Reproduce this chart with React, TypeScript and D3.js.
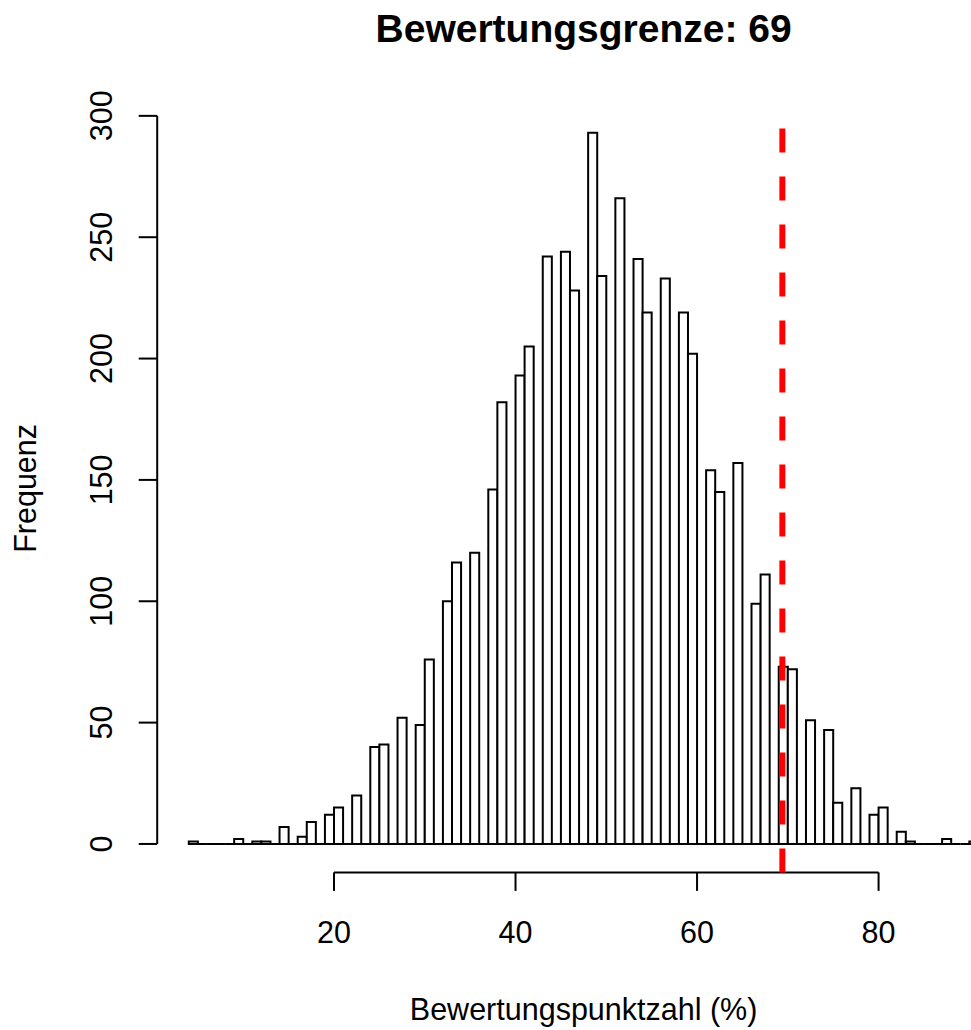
import React from 'react';
import * as d3 from 'd3';

// Histogram bin edges (Bewertungspunktzahl in %), one unit wide
const binEdges = [
  4, 5, 6, 7, 8, 9, 10, 11, 12, 13, 14, 15, 16, 17, 18, 19, 20, 21, 22, 23,
  24, 25, 26, 27, 28, 29, 30, 31, 32, 33, 34, 35, 36, 37, 38, 39, 40, 41, 42, 43,
  44, 45, 46, 47, 48, 49, 50, 51, 52, 53, 54, 55, 56, 57, 58, 59, 60, 61, 62, 63,
  64, 65, 66, 67, 68, 69, 70, 71, 72, 73, 74, 75, 76, 77, 78, 79, 80, 81, 82, 83,
  84, 85, 86, 87, 88, 89, 90, 91,
];

// Counts per bin (bin i spans binEdges[i]..binEdges[i+1])
const binCounts = [
  1, 0, 0, 0, 0, 2, 0, 1, 1, 0, 7, 0, 3, 9, 0, 12, 15, 0, 20, 0,
  40, 41, 0, 52, 0, 49, 76, 0, 100, 116, 0, 120, 0, 146, 182, 0, 193, 205, 0, 242,
  0, 244, 228, 0, 293, 234, 0, 266, 0, 241, 219, 0, 233, 0, 219, 202, 0, 154, 145, 0,
  157, 0, 99, 111, 0, 73, 72, 0, 51, 0, 47, 17, 0, 23, 0, 12, 15, 0, 5, 1,
  0, 0, 0, 2, 0, 0, 1,
];

const xTicks = [20, 40, 60, 80];
const yTicks = [0, 50, 100, 150, 200, 250, 300];
const cutoffValue = 69.4;
const titleText = 'Bewertungsgrenze: 69';
const xLabelText = 'Bewertungspunktzahl (%)';
const yLabelText = 'Frequenz';

const W = 971;
const H = 1030;
const FONT = "'Liberation Sans', Arial, Helvetica, sans-serif";

export default function App() {
  const xLo = binEdges[0];
  const xHi = binEdges[binEdges.length - 1];
  const xExt = (xHi - xLo) * 0.04;
  const yMax = d3.max(binCounts) as number;
  const yExt = yMax * 0.04;

  const plotLeft = 157.2;
  const plotRight = 1010.0;
  const plotTop = 104.4;
  const plotBottom = 872.4;

  const x = d3.scaleLinear().domain([xLo - xExt, xHi + xExt]).range([plotLeft, plotRight]);
  const y = d3.scaleLinear().domain([-yExt, yMax + yExt]).range([plotBottom, plotTop]);

  const sw = 2;
  const tickLen = 18.5;
  const fs = 30.5;

  const bars = binCounts.map((c, i) => {
    const x0 = x(binEdges[i]);
    const x1 = x(binEdges[i + 1]);
    const y0 = y(0);
    const y1 = y(c);
    return `M${x0},${y0}V${y1}H${x1}V${y0}Z`;
  });

  const midX = (x(xLo) + x(xHi)) / 2;
  const midY = (plotTop + plotBottom) / 2;

  return (
    <svg
      width={W}
      height={H}
      viewBox={`0 0 ${W} ${H}`}
      style={{ position: 'absolute', left: 0, top: 0, background: '#ffffff' }}
    >
      <rect x={0} y={0} width={W} height={H} fill="#ffffff" />
      {/* Title */}
      <text
        x={midX}
        y={42}
        textAnchor="middle"
        fontFamily={FONT}
        fontWeight="bold"
        fontSize={39}
        fill="#000"
      >
        {titleText}
      </text>

      {/* Bars */}
      <g fill="#ffffff" stroke="#000" strokeWidth={sw} strokeLinejoin="miter">
        {bars.map((d, i) => (
          <path key={i} d={d} />
        ))}
      </g>

      {/* X axis */}
      <g stroke="#000" strokeWidth={sw} fill="none">
        <line x1={x(xTicks[0])} x2={x(xTicks[xTicks.length - 1])} y1={plotBottom} y2={plotBottom} />
        {xTicks.map((t) => (
          <line key={t} x1={x(t)} x2={x(t)} y1={plotBottom} y2={plotBottom + tickLen} />
        ))}
      </g>
      {xTicks.map((t) => (
        <text key={t} x={x(t)} y={943} textAnchor="middle" fontFamily={FONT} fontSize={fs} fill="#000">
          {t}
        </text>
      ))}

      {/* Y axis */}
      <g stroke="#000" strokeWidth={sw} fill="none">
        <line x1={plotLeft} x2={plotLeft} y1={y(yTicks[0])} y2={y(yTicks[yTicks.length - 1])} />
        {yTicks.map((t) => (
          <line key={t} x1={plotLeft - tickLen} x2={plotLeft} y1={y(t)} y2={y(t)} />
        ))}
      </g>
      {yTicks.map((t) => (
        <text
          key={t}
          transform={`translate(112,${y(t)}) rotate(-90)`}
          textAnchor="middle"
          fontFamily={FONT}
          fontSize={fs}
          fill="#000"
        >
          {t}
        </text>
      ))}

      {/* Axis titles */}
      <text x={midX} y={1020} textAnchor="middle" fontFamily={FONT} fontSize={fs} fill="#000">
        {xLabelText}
      </text>
      <text
        transform={`translate(36,${midY}) rotate(-90)`}
        textAnchor="middle"
        fontFamily={FONT}
        fontSize={fs}
        fill="#000"
      >
        {yLabelText}
      </text>

      {/* Cutoff line */}
      <line
        x1={x(cutoffValue)}
        x2={x(cutoffValue)}
        y1={plotBottom}
        y2={plotTop}
        stroke="#ff0000"
        strokeWidth={6}
        strokeDasharray="24 24"
      />
    </svg>
  );
}
